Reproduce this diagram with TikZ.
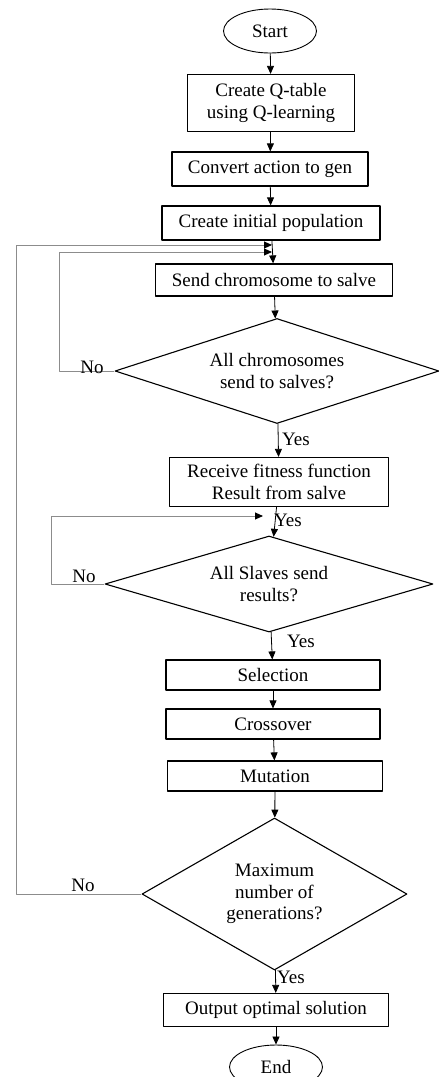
\documentclass[tikz,border=0pt]{standalone}
\usepackage{fontspec}
\setmainfont{Liberation Serif}
\usetikzlibrary{shapes.geometric,arrows.meta}
\tikzset{
  terminal/.style={draw, ellipse, line width=0.9pt, minimum width=93pt, minimum height=44pt, inner sep=0pt},
  procbox/.style={draw, rectangle, line width=1.2pt, align=center, inner sep=0pt},
  decision/.style={draw, diamond, line width=1.1pt, align=center, inner sep=0pt},
  flow/.style={->, line width=0.8pt},
  loopline/.style={-{Triangle[length=8pt,width=7pt,color=black]}, line width=0.9pt, draw=gray!90},
}
\begin{document}
\begin{tikzpicture}[x=1pt, y=-1pt, font=\fontsize{19}{21.5}\selectfont, line join=round, >={Triangle[length=8pt,width=7pt]}]
	\useasboundingbox (0,0) rectangle (439,1077);
	%%%%%%%%%%%%%%%%%%%%%%%%%%%%%%%%%
	\node[terminal] (start) at (270,31) {Start};
	\node[procbox, minimum width=167pt, minimum height=57pt] (qtable) at (271,103) {Create Q-table\\using Q-learning};
	\node[procbox, minimum width=196pt, minimum height=34pt] (convert) at (270,169) {Convert action to gen};
	\node[procbox, minimum width=218pt, minimum height=34pt] (initpop) at (271,223) {Create initial population};
	\node[procbox, minimum width=237pt, minimum height=32pt] (sendchr) at (274,280) {Send chromosome to salve};
	\node[decision, aspect=3.09, minimum width=324pt, minimum height=105pt] (allsent) at (277,371) {All chromosomes\\send to salves?};
	\node[procbox, minimum width=219pt, minimum height=49pt] (receive) at (279,482) {Receive fitness function\\Result from salve};
	\node[decision, aspect=3.42, minimum width=328pt, minimum height=96pt] (allres) at (269,584) {All Slaves send\\results?};
	\node[procbox, minimum width=214pt, minimum height=30pt] (select) at (273,675) {Selection};
	\node[procbox, minimum width=214pt, minimum height=30pt] (cross) at (273,724) {Crossover};
	\node[procbox, minimum width=215pt, minimum height=30pt] (mutate) at (275,776) {Mutation};
	\node[decision, aspect=1.74, minimum width=265pt, minimum height=152pt] (maxgen) at (274.5,894) {Maximum\\number of\\generations?};
	\node[procbox, minimum width=225pt, minimum height=33pt] (output) at (276,1010) {Output optimal solution};
	\node[terminal] (end) at (276,1067) {End};
	%%%%%%%%%%%%%%%%%%%%%%%%%%%%%%%%%
	\coordinate (outerL) at (16,245);
	\coordinate (outerR) at (272,245);
	\coordinate (innerL) at (59,252);
	\coordinate (innerR) at (272,252);
	\coordinate (resL) at (51,516);
	\coordinate (resR) at (263,516);
	%%%%%%%%%%%%%%%%%%%%%%%%%%%%%%%%%
	\draw[flow] (start) -- (qtable);
	\draw[flow] (qtable) -- (convert);
	\draw[flow] (convert) -- (initpop);
	\draw[flow] (initpop) -- (sendchr);
	\draw[flow] (sendchr) -- (allsent);
	\draw[flow] (allsent) -- (receive);
	\draw[flow] (receive) -- (allres);
	\draw[flow] (allres) -- (select);
	\draw[flow] (select) -- (cross);
	\draw[flow] (cross) -- (mutate);
	\draw[flow] (mutate) -- (maxgen);
	\draw[flow] (maxgen) -- (output);
	\draw[flow] (output) -- (end);
	%%%%%%%%%%%%%%%%%%%%%%%%%%%%%%%%%
	\begin{scope}[loopline]
		\draw (allsent.west) -| (innerL) -- (innerR);
		\draw (allres.west) -| (resL) -- (resR);
		\draw (maxgen.west) -| (outerL) -- (outerR);
	\end{scope}
	%%%%%%%%%%%%%%%%%%%%%%%%%%%%%%%%%
	\node (no1) at (92,367) {No};
	\node (yes1) at (296,439) {Yes};
	\node (yes2) at (288,520) {Yes};
	\node (no2) at (84,576) {No};
	\node (yes3) at (301,641) {Yes};
	\node (no3) at (83,885) {No};
	\node (yes4) at (291,977) {Yes};
	%%%%%%%%%%%%%%%%%%%%%%%%%%%%%%%%%
\end{tikzpicture}
\end{document}
